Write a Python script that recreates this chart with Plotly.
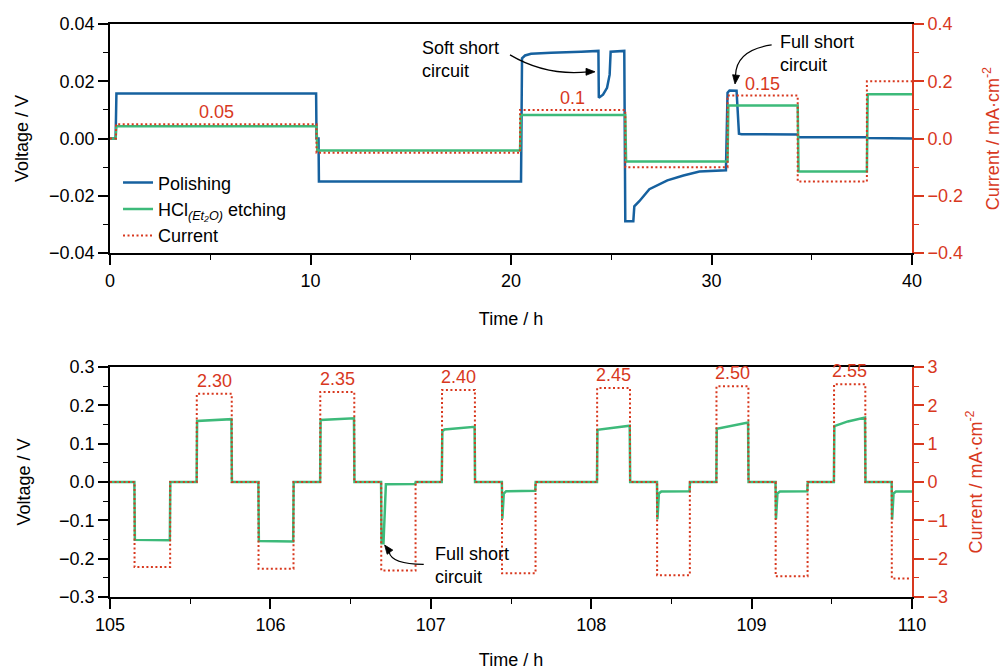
import plotly.graph_objects as go

# ---------------- data: top panel (0-40 h) ----------------
pol_t = [0, 0.28, 0.32, 10.28, 10.3, 10.4, 10.42, 20.5, 20.55, 20.7, 21.0, 22.0, 23.5, 24.36,
         24.38, 24.59, 24.79, 24.92, 24.97, 25.6, 25.65, 25.7, 26.1, 26.15, 26.4, 26.9, 27.8, 28.6,
         29.4, 30.72, 30.8, 30.9, 31.25, 31.37, 31.5, 34.3, 34.33, 37.74, 37.76, 40]
pol_v = [0, 0, 0.0157, 0.0157, 0.0, 0.0, -0.0150, -0.0150, 0.0280, 0.0290, 0.0296, 0.0300, 0.0303, 0.0306,
         0.0142, 0.0153, 0.0177, 0.0223, 0.0303, 0.0306, 0.0306, -0.0289, -0.0289, -0.0237, -0.0219,
         -0.0177, -0.0146, -0.0129, -0.0115, -0.0111, 0.0160, 0.0168, 0.0167, 0.0017, 0.0015, 0.0014,
         0.0004, 0.0004, 0.0002, 0.0]

hcl_t = [0, 0.28, 0.32, 10.3, 10.34, 20.45, 20.49, 25.7, 25.74, 30.8, 30.84, 34.3, 34.34, 37.75, 37.79, 40]
hcl_v = [0, 0, 0.0043, 0.0043, -0.0042, -0.0042, 0.0082, 0.0082, -0.0080, -0.0080, 0.0115, 0.0115,
         -0.0115, -0.0115, 0.0155, 0.0155]

cur_t = [0, 0.3, 10.3, 20.45, 25.7, 30.8, 34.3, 37.75, 40]
cur_i = [0, 0.05, -0.05, 0.10, -0.10, 0.15, -0.15, 0.20, 0.20]

top_labels = ["0.05", "0.1", "0.15"]
top_label_t = [5.3, 23.07, 32.55]
top_label_i = [0.05, 0.10, 0.15]

# ---------------- data: bottom panel (105-110 h) ----------------
hcl2_t = [105.0, 105.152, 105.155, 105.373, 105.376, 105.540, 105.543, 105.757, 105.760,
          105.925, 105.928, 106.142, 106.145, 106.310, 106.313, 106.521, 106.524,
          106.690, 106.693, 106.705, 106.720, 106.903, 106.906,
          107.068, 107.072, 107.085, 107.273, 107.276,
          107.443, 107.446, 107.455, 107.470, 107.651, 107.654,
          108.036, 108.039, 108.240, 108.243,
          108.410, 108.413, 108.422, 108.437, 108.613, 108.616,
          108.780, 108.783, 108.978, 108.981,
          109.149, 109.152, 109.161, 109.176, 109.347, 109.350,
          109.513, 109.516, 109.600, 109.707, 109.710,
          109.873, 109.876, 109.885, 109.900, 110.0]
hcl2_v = [0, 0, -0.151, -0.152, 0, 0, 0.159, 0.164, 0,
          0, -0.154, -0.155, 0, 0, 0.162, 0.166, 0,
          0, -0.160, -0.160, -0.006, -0.005, 0,
          0, 0.132, 0.137, 0.144, 0,
          0, -0.096, -0.030, -0.024, -0.023, 0,
          0, 0.136, 0.147, 0,
          0, -0.097, -0.030, -0.025, -0.024, 0,
          0, 0.139, 0.155, 0,
          0, -0.097, -0.030, -0.025, -0.024, 0,
          0, 0.146, 0.158, 0.168, 0,
          0, -0.098, -0.030, -0.025, -0.025]

cur2_t = [105.0, 105.153, 105.375, 105.541, 105.759, 105.926, 106.144, 106.311, 106.523, 106.691,
          106.905, 107.070, 107.275, 107.444, 107.653, 108.037, 108.242, 108.411, 108.615, 108.781,
          108.980, 109.150, 109.349, 109.514, 109.709, 109.874, 109.99]
cur2_i = [0, -2.22, 0, 2.30, 0, -2.26, 0, 2.35, 0, -2.31, 0, 2.40, 0, -2.38, 0, 2.45, 0, -2.43, 0,
          2.50, 0, -2.46, 0, 2.55, 0, -2.52, -2.52]

bot_labels = ["2.30", "2.35", "2.40", "2.45", "2.50", "2.55"]
bot_label_t = [105.65, 106.417, 107.172, 108.14, 108.88, 109.61]
bot_label_i = [2.30, 2.35, 2.40, 2.45, 2.50, 2.55]

BLUE = "#16619f"
GREEN = "#3dba7a"
RED = "#d8381e"
FONT = "Liberation Sans, Arial, sans-serif"
FS = 18

fig = go.Figure()
fig.add_trace(go.Scatter(x=pol_t, y=pol_v, mode="lines", name="Polishing",
                         line=dict(color=BLUE, width=2.5), xaxis="x", yaxis="y"))
fig.add_trace(go.Scatter(x=hcl_t, y=hcl_v, mode="lines",
                         name="HCl<sub><i>(Et₂O)</i></sub> etching",
                         line=dict(color=GREEN, width=2.5), xaxis="x", yaxis="y"))
fig.add_trace(go.Scatter(x=cur_t, y=cur_i, mode="lines", name="Current",
                         line=dict(color=RED, width=2, dash="2px,2.5px", shape="hv"),
                         xaxis="x", yaxis="y2"))
fig.add_trace(go.Scatter(x=hcl2_t, y=hcl2_v, mode="lines", showlegend=False,
                         line=dict(color=GREEN, width=2.5), xaxis="x2", yaxis="y3"))
fig.add_trace(go.Scatter(x=cur2_t, y=cur2_i, mode="lines", showlegend=False,
                         line=dict(color=RED, width=2, dash="2px,2.5px", shape="hv"),
                         xaxis="x2", yaxis="y4"))

ax_common = dict(showline=True, linecolor="black", linewidth=1.8, ticks="outside",
                 ticklen=10, tickwidth=1.6, tickcolor="black", showgrid=False, zeroline=False,
                 automargin=False,
                 tickfont=dict(family=FONT, size=FS, color="black"),
                 title_font=dict(family=FONT, size=FS, color="black"))
red_common = dict(showline=True, linecolor=RED, linewidth=1.8, ticks="outside",
                  ticklen=10, tickwidth=1.6, tickcolor=RED, showgrid=False, zeroline=False,
                  automargin=False,
                  tickfont=dict(family=FONT, size=FS, color=RED),
                  title_font=dict(family=FONT, size=FS, color=RED))

TOP_DOM = [0.6003, 1.0]
BOT_DOM = [0.0, 0.4014]

fig.update_layout(
    width=1003, height=670,
    margin=dict(l=110, r=91, t=24, b=73),
    paper_bgcolor="white", plot_bgcolor="white",
    font=dict(family=FONT, size=FS, color="black"),
    xaxis=dict(domain=[0, 1], anchor="y", range=[0, 40], dtick=10, mirror=True,
               minor=dict(dtick=5, ticklen=5, tickwidth=1.4, tickcolor="black"),
               title=dict(text="Time / h", standoff=23), **ax_common),
    yaxis=dict(domain=TOP_DOM, anchor="x", range=[-0.04, 0.04], dtick=0.02, tickformat=".2f",
               minor=dict(dtick=0.01, ticklen=5, tickwidth=1.4, tickcolor="black"),
               title=dict(text="Voltage / V", standoff=16), **ax_common),
    yaxis2=dict(overlaying="y", side="right", anchor="x", range=[-0.4, 0.4], dtick=0.2,
                tickformat=".1f",
                minor=dict(dtick=0.1, ticklen=5, tickwidth=1.4, tickcolor=RED),
                title=dict(text="Current / mA·cm<sup>-2</sup>", standoff=25), **red_common),
    xaxis2=dict(domain=[0, 1], anchor="y3", range=[105, 110], dtick=1, mirror=True,
                minor=dict(dtick=0.5, ticklen=5, tickwidth=1.4, tickcolor="black"),
                title=dict(text="Time / h", standoff=21), **ax_common),
    yaxis3=dict(domain=BOT_DOM, anchor="x2", range=[-0.3, 0.3], dtick=0.1, tickformat=".1f",
                minor=dict(dtick=0.05, ticklen=5, tickwidth=1.4, tickcolor="black"),
                title=dict(text="Voltage / V", standoff=24), **ax_common),
    yaxis4=dict(overlaying="y3", side="right", anchor="x2", range=[-3, 3], dtick=1,
                tickformat="d",
                minor=dict(dtick=0.5, ticklen=5, tickwidth=1.4, tickcolor=RED),
                title=dict(text="Current / mA·cm<sup>-2</sup>", standoff=22), **red_common),
    legend=dict(x=0.01, y=0.755, xanchor="left", yanchor="top", bgcolor="rgba(0,0,0,0)",
                font=dict(family=FONT, size=FS), itemwidth=30, tracegroupgap=0),
    showlegend=True,
)

# value labels above current steps
for txt, t, i in zip(top_labels, top_label_t, top_label_i):
    fig.add_annotation(x=t, y=i, xref="x", yref="y2", text=txt, showarrow=False,
                       yanchor="bottom", yshift=0, font=dict(family=FONT, size=FS, color=RED))
for txt, t, i in zip(bot_labels, bot_label_t, bot_label_i):
    fig.add_annotation(x=t, y=i, xref="x2", yref="y4", text=txt, showarrow=False,
                       yanchor="bottom", yshift=1, font=dict(family=FONT, size=FS, color=RED))

# text annotations
fig.add_annotation(x=15.46, y=0.0275, xref="x", yref="y", text="Soft short<br>circuit",
                   showarrow=False, xanchor="left", yanchor="middle", align="left",
                   font=dict(family=FONT, size=FS, color="black"))
fig.add_annotation(x=33.32, y=0.0296, xref="x", yref="y", text="Full short<br>circuit",
                   showarrow=False, xanchor="left", yanchor="middle", align="left",
                   font=dict(family=FONT, size=FS, color="black"))
fig.add_annotation(x=107.016, y=-0.219, xref="x2", yref="y3", text="Full short<br>circuit",
                   showarrow=False, xanchor="left", yanchor="middle", align="left",
                   font=dict(family=FONT, size=FS, color="black"))

# curved arrow bodies
fig.add_shape(type="path", xref="x", yref="y",
              path="M 19.95,0.02922 Q 21.75,0.02174 23.85,0.02330",
              line=dict(color="black", width=1.2))
fig.add_shape(type="path", xref="x", yref="y",
              path="M 33.00,0.0327 Q 31.25,0.03096 31.20,0.0222",
              line=dict(color="black", width=1.2))
fig.add_shape(type="path", xref="x2", yref="y3",
              path="M 106.956,-0.2147 Q 106.757,-0.2149 106.740,-0.1830",
              line=dict(color="black", width=1.2))
# arrow heads (filled triangles)
fig.add_shape(type="path", xref="x", yref="y",
              path="M 24.19,0.02330 L 23.741,0.02452 L 23.741,0.02209 Z",
              fillcolor="black", line=dict(color="black", width=0.8))
fig.add_shape(type="path", xref="x", yref="y",
              path="M 31.172,0.01904 L 31.401,0.02201 L 31.052,0.02229 Z",
              fillcolor="black", line=dict(color="black", width=0.8))
fig.add_shape(type="path", xref="x2", yref="y3",
              path="M 106.712,-0.1644 L 106.763,-0.1777 L 106.728,-0.1886 Z",
              fillcolor="black", line=dict(color="black", width=0.8))

fig.write_html("out.html", config={"displayModeBar": False},
               post_script="document.body.style.margin='0px';document.body.style.overflow='hidden';")
